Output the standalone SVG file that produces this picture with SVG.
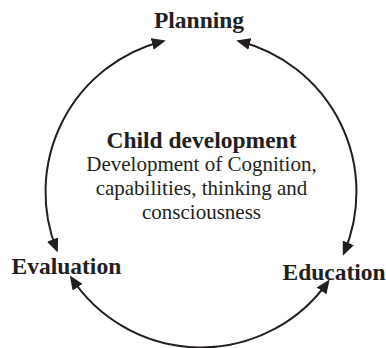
<svg xmlns="http://www.w3.org/2000/svg" width="386" height="348" viewBox="0 0 386 348">
  <style>
    .label { font-family: "Liberation Serif", "Times New Roman", serif; fill: #231f20; }
    .title { font-size: 23.5px; font-weight: bold; }
    .body { font-size: 21px; }
    .arc { fill: none; stroke: #231f20; stroke-width: 2; }
  </style>
  <defs>
    <marker id="arrow" viewBox="0 0 14 12" markerWidth="14" markerHeight="12" refX="11" refY="6" orient="auto-start-reverse" markerUnits="userSpaceOnUse">
      <path d="M0,0 L14,6 L0,12 z" fill="#231f20"/>
    </marker>
  </defs>

  <rect width="386" height="348" fill="#ffffff"/>

  <!-- cycle arcs on a circle centred at (201,192), r = 155.5 -->
  <g id="connectors">
    <path class="arc" d="M56.65,249.8 A155.5,155.5 0 0 1 162.85,41.26" marker-start="url(#arrow)" marker-end="url(#arrow)"/>
    <path class="arc" d="M239.15,41.26 A155.5,155.5 0 0 1 344.0,253.0" marker-start="url(#arrow)" marker-end="url(#arrow)"/>
    <path class="arc" d="M327.9,281.9 A155.5,155.5 0 0 1 71.5,278.05" marker-start="url(#arrow)" marker-end="url(#arrow)"/>
  </g>

  <g id="planning">
    <text class="label title" x="199" y="27.5" text-anchor="middle">Planning</text>
  </g>

  <g id="child-development">
    <text class="label title" x="201.5" y="148" text-anchor="middle">Child development</text>
    <text class="label body" x="201.5" y="171" text-anchor="middle">Development of Cognition,</text>
    <text class="label body" x="201.5" y="195" text-anchor="middle">capabilities, thinking and</text>
    <text class="label body" x="201.5" y="219" text-anchor="middle">consciousness</text>
  </g>

  <g id="evaluation">
    <text class="label title" x="11.5" y="274">Evaluation</text>
  </g>

  <g id="education">
    <text class="label title" x="282.5" y="279.5">Education</text>
  </g>
</svg>
